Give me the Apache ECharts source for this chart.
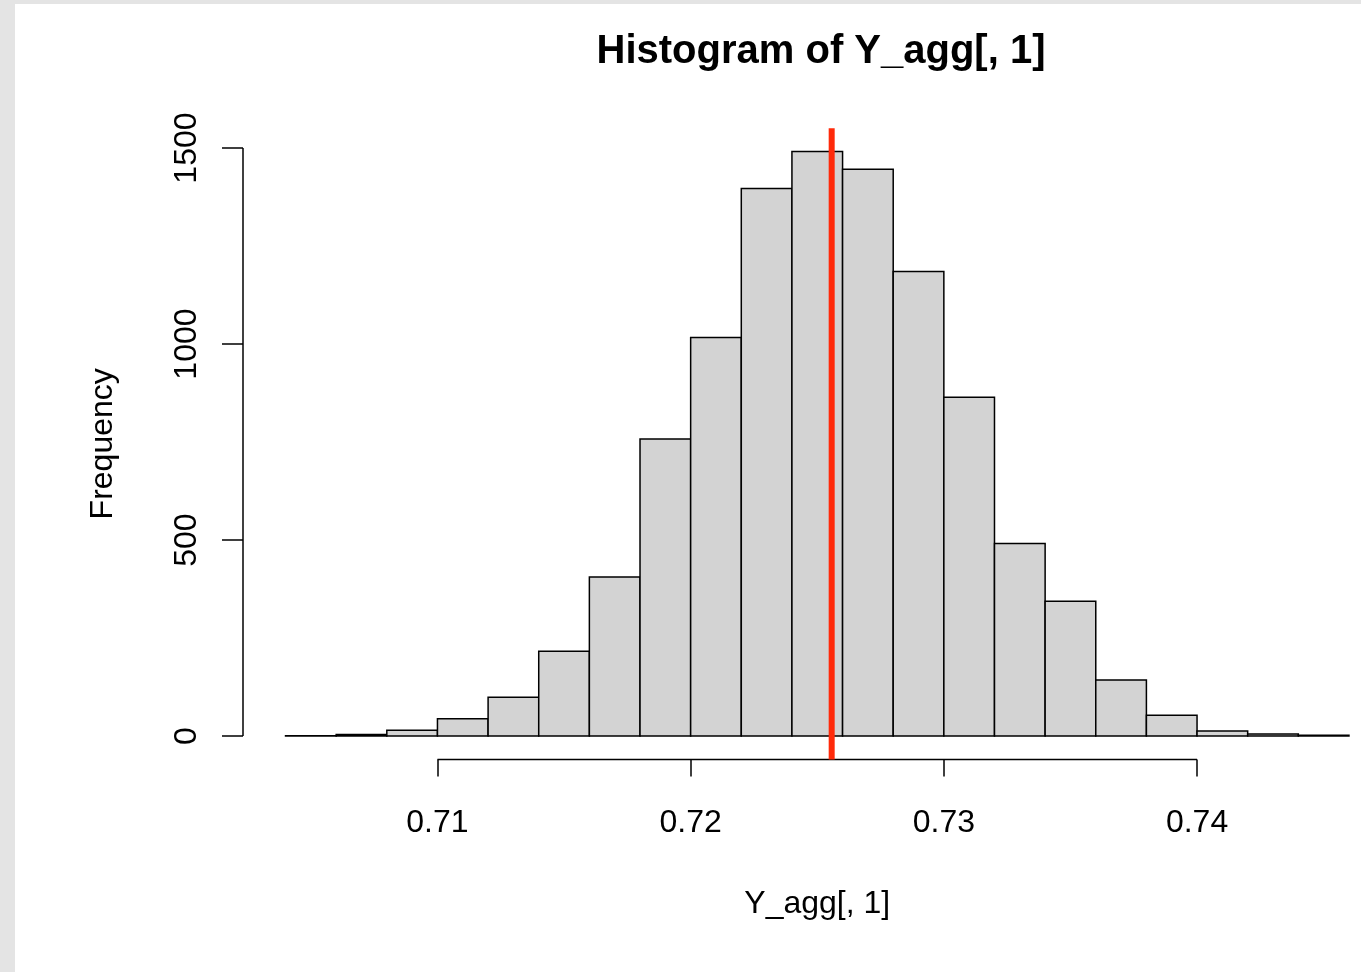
<!DOCTYPE html>
<html>
<head>
<meta charset="utf-8">
<script src="https://cdn.jsdelivr.net/npm/echarts@6/dist/echarts.min.js"></script>
<style>
  html, body { margin: 0; padding: 0; background: #e4e4e4; overflow: hidden; }
  #chart { width: 1420px; height: 972px; }
</style>
</head>
<body>
<div id="chart"></div>
<script>
// Histogram bin edges (left edges, width 0.002) and counts
const binStarts = [0.704, 0.706, 0.708, 0.710, 0.712, 0.714, 0.716, 0.718, 0.720, 0.722,
                   0.724, 0.726, 0.728, 0.730, 0.732, 0.734, 0.736, 0.738, 0.740, 0.742, 0.744];
const binWidth = 0.002;
const counts = [1, 4, 15, 44, 99, 216, 406, 758, 1017, 1397,
                1491, 1446, 1185, 864, 491, 344, 143, 53, 13, 5, 2];
const meanValue = 0.72557;
const xTicks = [0.71, 0.72, 0.73, 0.74];
const xTickLabels = ['0.71', '0.72', '0.73', '0.74'];
const yTicks = [0, 500, 1000, 1500];
const yTickLabels = ['0', '500', '1000', '1500'];
const titleText = 'Histogram of Y_agg[, 1]';
const xTitle = 'Y_agg[, 1]';
const yTitle = 'Frequency';

// R-style 4% axis extension
const xLo = binStarts[0], xHi = binStarts[binStarts.length - 1] + binWidth;
const xPad = (xHi - xLo) * 0.04;
const xMin = xLo - xPad, xMax = xHi + xPad;
const yTop = Math.max(...counts);
const yPad = yTop * 0.04;
const yMin = -yPad, yMax = yTop + yPad;

const histData = binStarts.map((s, i) => [s, s + binWidth, counts[i]]);

const FONT = '"Liberation Sans", Arial, Helvetica, sans-serif';
const chart = echarts.init(document.getElementById('chart'), null, { renderer: 'canvas' });

chart.setOption({
  backgroundColor: '#e4e4e4',
  animation: false,
  graphic: [{
    type: 'rect', z: -10, silent: true,
    shape: { x: 15, y: 4, width: 1405, height: 968 },
    style: { fill: '#ffffff' }
  }],
  title: {
    text: titleText,
    left: 816, top: 27, textAlign: 'center',
    textStyle: { fontFamily: FONT, fontWeight: 'bold', fontSize: 40, color: '#000' }
  },
  grid: { left: 243, top: 128.2, right: 28.5, height: 631.2, containLabel: false },
  xAxis: {
    type: 'value', min: xMin, max: xMax,
    name: xTitle, nameLocation: 'middle', nameGap: 129,
    nameTextStyle: { fontFamily: FONT, fontSize: 32, color: '#000' },
    axisLine: { show: false, onZero: false },
    splitLine: { show: false },
    axisTick: { show: true, customValues: xTicks, length: 17, inside: false,
                lineStyle: { color: '#000', width: 1.5 } },
    axisLabel: { show: true, customValues: xTicks, margin: 48,
                 formatter: v => xTickLabels[xTicks.findIndex(t => Math.abs(t - v) < 1e-9)] ?? '',
                 fontFamily: FONT, fontSize: 32, color: '#000' }
  },
  yAxis: {
    type: 'value', min: yMin, max: yMax,
    name: yTitle, nameLocation: 'middle', nameGap: 124, nameRotate: 90,
    nameTextStyle: { fontFamily: FONT, fontSize: 32, color: '#000' },
    axisLine: { show: false, onZero: false },
    splitLine: { show: false },
    axisTick: { show: true, customValues: yTicks, length: 21, inside: false,
                lineStyle: { color: '#000', width: 1.5 } },
    axisLabel: { show: true, customValues: yTicks, rotate: 90, margin: 40,
                 formatter: v => yTickLabels[yTicks.findIndex(t => Math.abs(t - v) < 1e-9)] ?? '',
                 fontFamily: FONT, fontSize: 32, color: '#000' }
  },
  series: [
    {
      type: 'custom',
      name: 'hist',
      data: histData,
      encode: { x: [0, 1], y: 2 },
      clip: false,
      renderItem: function (params, api) {
        const p0 = api.coord([api.value(0), api.value(2)]);
        const p1 = api.coord([api.value(1), 0]);
        return {
          type: 'rect',
          shape: { x: p0[0], y: p0[1], width: p1[0] - p0[0], height: p1[1] - p0[1] },
          style: { fill: '#d3d3d3', stroke: '#000', lineWidth: 1.5 }
        };
      }
    },
    {
      type: 'line', silent: true, clip: false, symbol: 'none', z: 10,
      data: [[meanValue, yMin], [meanValue, yMax]],
      lineStyle: { color: '#ff2a0a', width: 6 }
    },
    {
      type: 'line', silent: true, clip: false, symbol: 'none',
      data: [[xTicks[0], yMin], [xTicks[xTicks.length - 1], yMin]],
      lineStyle: { color: '#000', width: 1.5 }
    },
    {
      type: 'line', silent: true, clip: false, symbol: 'none',
      data: [[xMin, yTicks[0]], [xMin, yTicks[yTicks.length - 1]]],
      lineStyle: { color: '#000', width: 1.5 }
    }
  ]
});
</script>
</body>
</html>
